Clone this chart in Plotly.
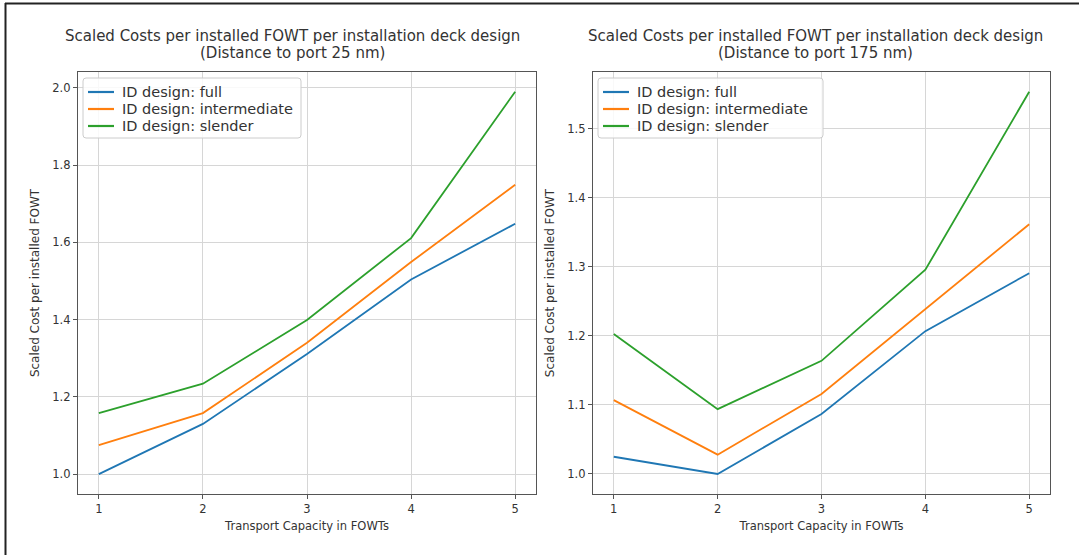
import plotly.graph_objects as go

capacity = [1, 2, 3, 4, 5]

# Distance to port 25 nm
near_full = [1.000, 1.130, 1.311, 1.504, 1.648]
near_intermediate = [1.075, 1.158, 1.340, 1.549, 1.749]
near_slender = [1.158, 1.234, 1.399, 1.611, 1.990]

# Distance to port 175 nm
far_full = [1.025, 1.000, 1.087, 1.207, 1.291]
far_intermediate = [1.107, 1.028, 1.116, 1.239, 1.362]
far_slender = [1.203, 1.094, 1.164, 1.296, 1.554]

series_names = ["ID design: full", "ID design: intermediate", "ID design: slender"]
colors = ["#1f77b4", "#ff7f0e", "#2ca02c"]

title_main = "Scaled Costs per installed FOWT per installation deck design"
title_subs = ["(Distance to port 25 nm)", "(Distance to port 175 nm)"]

W, H = 1079, 555
FONT = "DejaVu Sans, sans-serif"
TXT = "#333333"


def px(x):
    return x / W


def py(y):
    return 1 - y / H


fig = go.Figure()

panels = [
    ("x", "y", [near_full, near_intermediate, near_slender]),
    ("x2", "y2", [far_full, far_intermediate, far_slender]),
]
for xa, ya, data in panels:
    for name, col, vals in zip(series_names, colors, data):
        fig.add_trace(go.Scatter(
            x=capacity, y=vals, mode="lines", name=name,
            line=dict(color=col, width=1.8),
            xaxis=xa, yaxis=ya, showlegend=False,
        ))

axis_common = dict(
    showline=True, linecolor="#555555", linewidth=1.3, mirror=True,
    showgrid=True, gridcolor="#d6d6d6", gridwidth=1.3,
    ticks="outside", ticklen=4, tickcolor="#555555", tickwidth=1,
    tickfont=dict(family=FONT, size=11.5, color=TXT),
    zeroline=False,
)
xtitle = dict(text="Transport Capacity in FOWTs",
              font=dict(family=FONT, size=11.5, color=TXT), standoff=6)
ytitle = dict(text="Scaled Cost per installed FOWT",
              font=dict(family=FONT, size=12, color=TXT), standoff=10)

y0, y1 = py(494), py(72)

fig.update_layout(
    width=W, height=H,
    margin=dict(l=0, r=0, t=0, b=0),
    paper_bgcolor="white", plot_bgcolor="white",
    font=dict(family=FONT, color=TXT),
    showlegend=False,
    xaxis=dict(axis_common, domain=[px(78), px(536)], range=[0.8, 5.2],
               tickvals=capacity, anchor="y", title=xtitle),
    yaxis=dict(axis_common, domain=[y0, y1], range=[0.9485, 2.041],
               tickvals=[1.0, 1.2, 1.4, 1.6, 1.8, 2.0], tickformat=".1f",
               anchor="x", title=ytitle),
    xaxis2=dict(axis_common, domain=[px(593), px(1050)], range=[0.8, 5.2],
                tickvals=capacity, anchor="y2", title=xtitle),
    yaxis2=dict(axis_common, domain=[y0, y1], range=[0.971, 1.5826],
                tickvals=[1.0, 1.1, 1.2, 1.3, 1.4, 1.5], tickformat=".1f",
                anchor="x2", title=ytitle),
)

# Panel titles, two lines each
for cx, sub in zip([292, 815], title_subs):
    for ty, text in [(36, title_main), (53, sub)]:
        fig.add_annotation(
            x=px(cx), y=py(ty), xref="paper", yref="paper",
            xanchor="center", yanchor="middle", showarrow=False,
            text=text, font=dict(family=FONT, size=15, color=TXT),
        )


def rounded_box(x0, y0_, x1, y1_, r=3):
    X0, X1 = px(x0), px(x1)
    Y0, Y1 = py(y1_), py(y0_)
    rx, ry = r / W, r / H
    return (f"M {X0 + rx},{Y0} L {X1 - rx},{Y0} Q {X1},{Y0} {X1},{Y0 + ry} "
            f"L {X1},{Y1 - ry} Q {X1},{Y1} {X1 - rx},{Y1} "
            f"L {X0 + rx},{Y1} Q {X0},{Y1} {X0},{Y1 - ry} "
            f"L {X0},{Y0 + ry} Q {X0},{Y0} {X0 + rx},{Y0} Z")


# Legend boxes drawn in figure pixels: (box left, box right, sample start)
legend_specs = [(83, 301, 88), (598, 823, 603)]
row_y = [92, 109, 126]
for bx0, bx1, sx in legend_specs:
    fig.add_shape(type="path", xref="paper", yref="paper",
                  path=rounded_box(bx0, 78, bx1, 138),
                  fillcolor="rgba(255,255,255,0.85)",
                  line=dict(color="#cccccc", width=1), layer="above")
    for ry, name, col in zip(row_y, series_names, colors):
        fig.add_shape(type="line", xref="paper", yref="paper",
                      x0=px(sx), x1=px(sx + 26), y0=py(ry), y1=py(ry),
                      line=dict(color=col, width=2.2), layer="above")
        fig.add_annotation(
            x=px(sx + 32), y=py(ry), xref="paper", yref="paper",
            xanchor="left", yanchor="middle", showarrow=False,
            text=name, font=dict(family=FONT, size=14.5, color=TXT),
        )

# Frame lines along the top and left edges
fig.add_shape(type="line", xref="paper", yref="paper",
              x0=px(5), x1=1, y0=py(3.5), y1=py(3.5),
              line=dict(color="#222222", width=2))
fig.add_shape(type="line", xref="paper", yref="paper",
              x0=px(5.5), x1=px(5.5), y0=0, y1=py(3),
              line=dict(color="#222222", width=2))

fig.write_html("out.html")
